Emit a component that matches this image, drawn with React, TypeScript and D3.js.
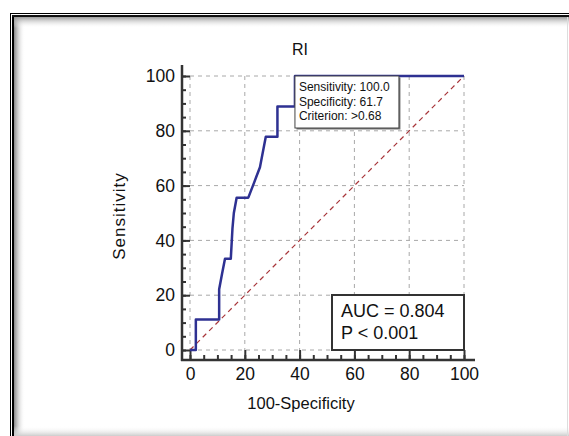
import * as d3 from "d3";
import React, { useEffect, useRef } from "react";

// ROC curve points: 100-Specificity (x) vs Sensitivity (y)
const fpr = [0, 2.13, 2.13, 10.64, 10.64, 11.7, 12.77, 14.89, 15.5, 16.0, 17.02, 21.28, 23.4, 25.53, 27.66, 31.91, 31.91, 38.3, 38.3, 100];
const tpr = [0, 0, 11.1, 11.1, 22.2, 27.8, 33.3, 33.3, 44.4, 50.0, 55.6, 55.6, 61.1, 66.7, 77.8, 77.8, 88.9, 88.9, 100, 100];

const majorTicks = [0, 20, 40, 60, 80, 100];
const minorTicks = d3.range(0, 101, 5);

const infoLines = ["Sensitivity: 100.0", "Specificity: 61.7", "Criterion: >0.68"];
const infoPoint = [38.3, 100];
const statLines = ["AUC = 0.804", "P < 0.001"];

const title = "RI";
const xTitle = "100-Specificity";
const yTitle = "Sensitivity";

const W = 569;
const H = 436;
const FONT = "'Liberation Sans', Arial, sans-serif";

const App = () => {
  const svgRef = useRef<SVGSVGElement>(null);

  useEffect(() => {
    document.body.style.margin = "0";

    const svg = d3.select(svgRef.current);
    svg.selectAll("*").remove();

    const x = d3.scaleLinear().domain([0, 100]).range([190, 464]);
    const y = d3.scaleLinear().domain([0, 100]).range([350, 76]);
    const axisX = x(0) - 8; // y axis line position
    const axisY = y(0) + 10; // x axis line position

    // frame with inner shadow
    const defs = svg.append("defs");
    const gl = defs.append("linearGradient").attr("id", "shL").attr("x1", 0).attr("x2", 1).attr("y1", 0).attr("y2", 0);
    gl.append("stop").attr("offset", 0).attr("stop-color", "#888");
    gl.append("stop").attr("offset", 1).attr("stop-color", "#fff").attr("stop-opacity", 0);
    const gt = defs.append("linearGradient").attr("id", "shT").attr("x1", 0).attr("x2", 0).attr("y1", 0).attr("y2", 1);
    gt.append("stop").attr("offset", 0).attr("stop-color", "#888");
    gt.append("stop").attr("offset", 1).attr("stop-color", "#fff").attr("stop-opacity", 0);
    const gb = defs.append("linearGradient").attr("id", "shB").attr("x1", 0).attr("x2", 0).attr("y1", 0).attr("y2", 1);
    gb.append("stop").attr("offset", 0).attr("stop-color", "#fff").attr("stop-opacity", 0);
    gb.append("stop").attr("offset", 1).attr("stop-color", "#ccc");

    svg.append("rect").attr("x", 0).attr("y", 0).attr("width", W).attr("height", H).attr("fill", "#fff");
    svg.append("rect").attr("x", 14).attr("y", 16).attr("width", 11).attr("height", H - 16).attr("fill", "url(#shL)");
    svg.append("rect").attr("x", 14).attr("y", 16).attr("width", W - 14).attr("height", 12).attr("fill", "url(#shT)");
    svg.append("rect").attr("x", 14).attr("y", 426).attr("width", W - 14).attr("height", 10).attr("fill", "url(#shB)");
    svg.append("line").attr("x1", 10.5).attr("x2", 10.5).attr("y1", 13).attr("y2", H).attr("stroke", "#000");
    svg.append("line").attr("x1", 10).attr("x2", W).attr("y1", 13.5).attr("y2", 13.5).attr("stroke", "#000");
    svg.append("line").attr("x1", 13).attr("x2", 13).attr("y1", 15).attr("y2", H).attr("stroke", "#000").attr("stroke-width", 2);
    svg.append("line").attr("x1", 12).attr("x2", W).attr("y1", 16).attr("y2", 16).attr("stroke", "#111").attr("stroke-width", 2);
    svg.append("line").attr("x1", 567.5).attr("x2", 567.5).attr("y1", 17).attr("y2", H).attr("stroke", "#ddd");

    // grid
    const grid = svg.append("g").attr("stroke", "#a8a8a8").attr("stroke-dasharray", "4,4").attr("stroke-width", 1);
    majorTicks.forEach((t) => {
      grid.append("line").attr("x1", x(t)).attr("x2", x(t)).attr("y1", y(100)).attr("y2", y(0));
      grid.append("line").attr("x1", x(0)).attr("x2", x(100)).attr("y1", y(t)).attr("y2", y(t));
    });

    // reference diagonal
    svg.append("line")
      .attr("x1", x(0)).attr("y1", y(0)).attr("x2", x(100)).attr("y2", y(100))
      .attr("stroke", "#a8353a").attr("stroke-width", 1.2).attr("stroke-dasharray", "5,4");

    // axes
    const yAxisG = svg.append("g").attr("transform", `translate(${axisX},0)`);
    yAxisG.call(d3.axisLeft(y).tickValues(minorTicks).tickSize(-4).tickFormat(() => ""));
    yAxisG.call((g) => g.select(".domain").remove());
    const yMajor = svg.append("g").attr("transform", `translate(${axisX},0)`)
      .call(d3.axisLeft(y).tickValues(majorTicks).tickSize(-8).tickPadding(7));
    yMajor.select(".domain").remove();

    const xAxisG = svg.append("g").attr("transform", `translate(0,${axisY})`);
    xAxisG.call(d3.axisBottom(x).tickValues(minorTicks).tickSize(-5).tickFormat(() => ""));
    xAxisG.call((g) => g.select(".domain").remove());
    const xMajor = svg.append("g").attr("transform", `translate(0,${axisY})`)
      .call(d3.axisBottom(x).tickValues(majorTicks).tickSize(-10).tickPadding(8));
    xMajor.select(".domain").remove();
    xMajor.selectAll("text").attr("dy", "0.71em");

    svg.selectAll(".tick line").attr("stroke", "#333").attr("stroke-width", 2);
    svg.selectAll(".tick text").attr("font-family", FONT).attr("font-size", 17.5).attr("fill", "#111");

    svg.append("line").attr("x1", axisX).attr("x2", axisX).attr("y1", 65).attr("y2", axisY + 1)
      .attr("stroke", "#333").attr("stroke-width", 2.5);
    svg.append("line").attr("x1", axisX - 1).attr("x2", 475).attr("y1", axisY).attr("y2", axisY)
      .attr("stroke", "#333").attr("stroke-width", 2.5);

    // ROC curve
    const line = d3.line<number>().x((d, i) => x(fpr[i])).y((d, i) => y(tpr[i]));
    svg.append("path").attr("d", line(tpr)).attr("fill", "none")
      .attr("stroke", "#2e3192").attr("stroke-width", 2.5).attr("stroke-linejoin", "round");

    // info box at criterion point
    const bx = x(infoPoint[0]);
    const by = y(infoPoint[1]);
    svg.append("rect").attr("x", bx + 1.5).attr("y", by + 1.5).attr("width", 104).attr("height", 52).attr("fill", "#777");
    svg.append("rect").attr("x", bx).attr("y", by).attr("width", 104).attr("height", 52)
      .attr("fill", "#fff").attr("stroke", "#444").attr("stroke-width", 1);
    infoLines.forEach((t, i) => {
      svg.append("text").attr("x", bx + 4).attr("y", by + 15 + i * 14.7)
        .attr("font-family", FONT).attr("font-size", 12).attr("fill", "#111").text(t);
    });

    // AUC box
    const sw = 132;
    const sh = 55;
    const sx = x(100) - sw;
    const sy = y(0) - sh;
    svg.append("rect").attr("x", sx).attr("y", sy).attr("width", sw).attr("height", sh)
      .attr("fill", "#fff").attr("stroke", "#333").attr("stroke-width", 2);
    statLines.forEach((t, i) => {
      svg.append("text").attr("x", sx + 9).attr("y", sy + 22 + i * 22)
        .attr("font-family", FONT).attr("font-size", 18).attr("fill", "#111").text(t);
    });

    // titles
    svg.append("text").attr("x", 300).attr("y", 55).attr("text-anchor", "middle")
      .attr("font-family", FONT).attr("font-size", 16).attr("fill", "#111").text(title);
    svg.append("text").attr("x", 301).attr("y", 409).attr("text-anchor", "middle")
      .attr("font-family", FONT).attr("font-size", 16.5).attr("fill", "#111").text(xTitle);
    svg.append("text").attr("transform", "translate(125,216) rotate(-90)").attr("text-anchor", "middle")
      .attr("font-family", FONT).attr("font-size", 17).attr("letter-spacing", 1).attr("fill", "#111").text(yTitle);
  }, []);

  return <svg ref={svgRef} width={W} height={H} style={{ display: "block" }} />;
};

export default App;
